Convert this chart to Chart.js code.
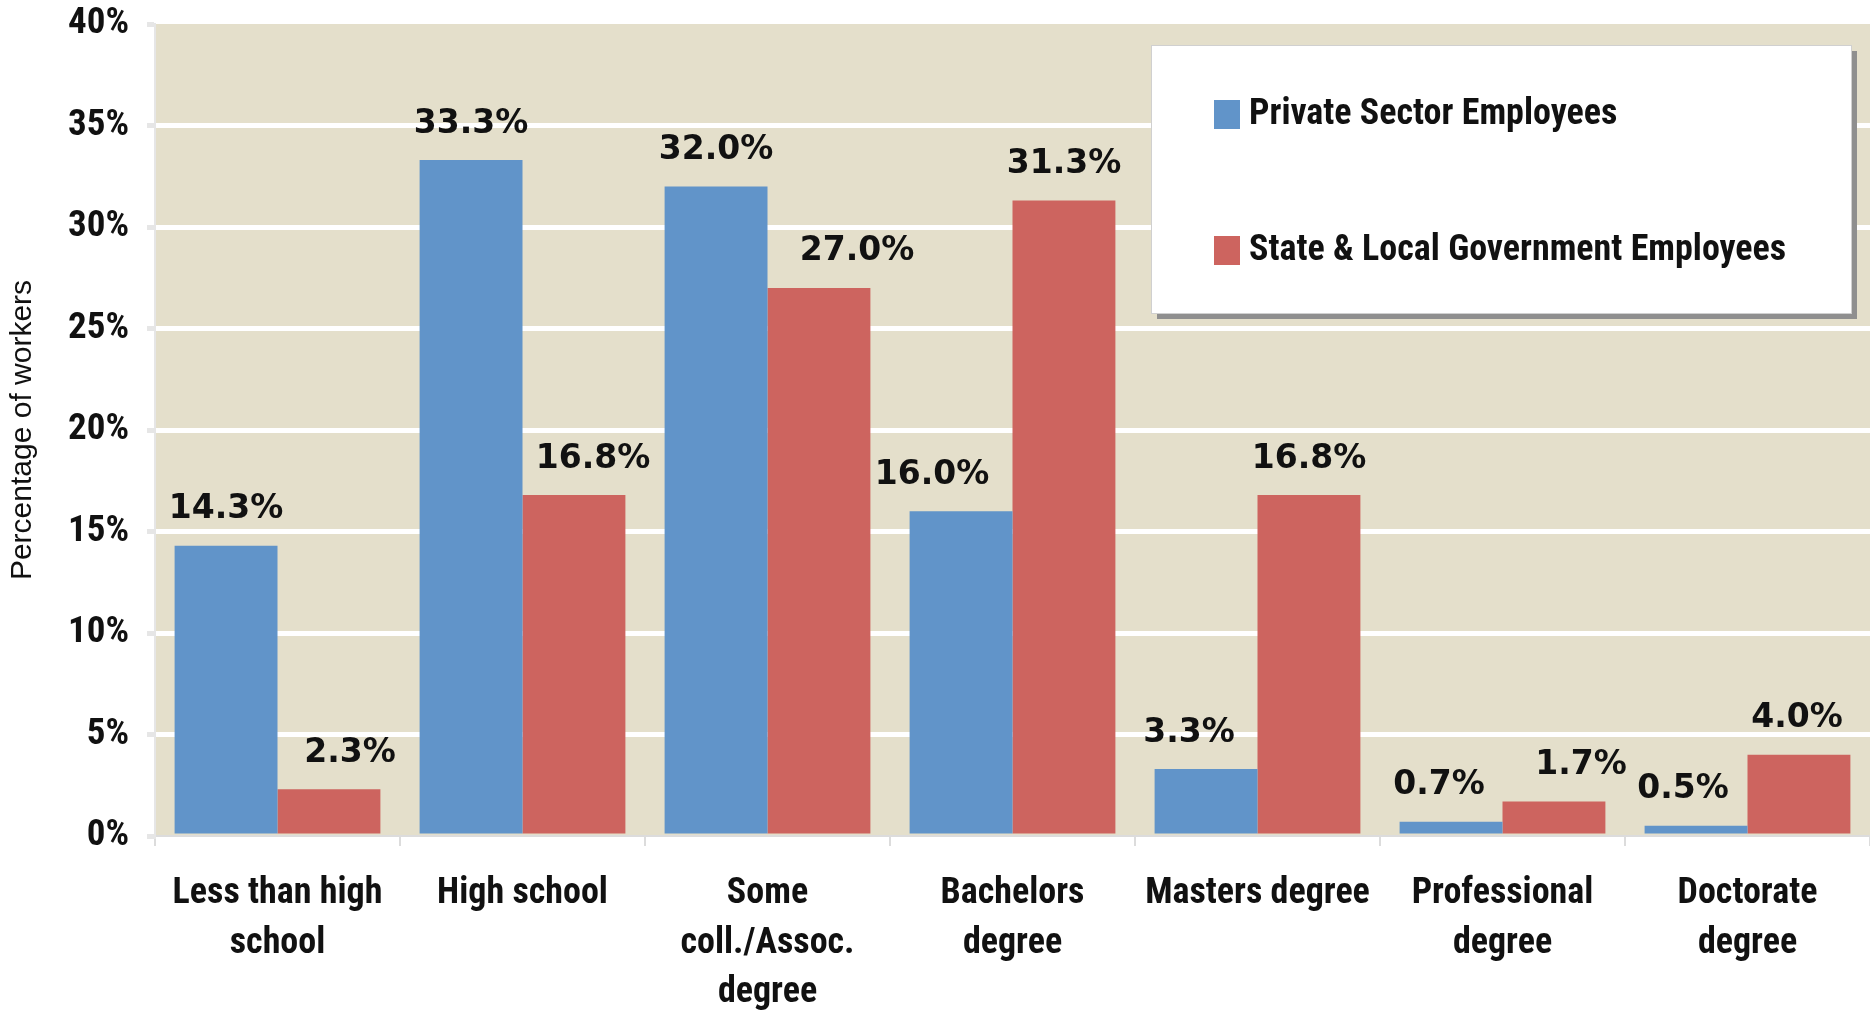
<!DOCTYPE html>
<html>
<head>
<meta charset="utf-8">
<script src="https://cdn.jsdelivr.net/npm/chart.js@4.4.1/dist/chart.umd.min.js"></script>
<style>
  html, body { margin: 0; padding: 0; background: #fff; }
  #wrap { width: 1870px; height: 1012px; }
</style>
</head>
<body>
<div id="wrap"><canvas id="chart" width="1870" height="1012"></canvas></div>
<script>
const categories = [
    ['Less than high', 'school'],
    ['High school'],
    ['Some', 'coll./Assoc.', 'degree'],
    ['Bachelors', 'degree'],
    ['Masters degree'],
    ['Professional', 'degree'],
    ['Doctorate', 'degree']
];
const privateSector = [14.3, 33.3, 32.0, 16.0, 3.3, 0.7, 0.5];
const stateLocal = [2.3, 16.8, 27.0, 31.3, 16.8, 1.7, 4.0];
const seriesNames = ['Private Sector Employees', 'State & Local Government Employees'];
const yTicks = [0, 5, 10, 15, 20, 25, 30, 35, 40];

// small horizontal nudges of the value labels, like the original
const labelShift = [
    [0, 0, 0, -29, -17, -12, -13],
    [21, 19, 38, 0, 0, 27, -2]
];

const narrow = "'Liberation Sans Narrow', 'Arial Narrow', 'Roboto Condensed', 'Liberation Sans', sans-serif";
const plotBg = '#E4DFCB';

const plotBackground = {
    id: 'plotBackground',
    beforeDraw(chart) {
        const { ctx, chartArea } = chart;
        ctx.save();
        ctx.fillStyle = plotBg;
        ctx.fillRect(chartArea.left, chartArea.top, chartArea.right - chartArea.left, chartArea.bottom - chartArea.top);
        ctx.restore();
    }
};

const valueLabels = {
    id: 'valueLabels',
    afterDatasetsDraw(chart) {
        const ctx = chart.ctx;
        ctx.save();
        ctx.font = "bold 33px 'DejaVu Sans', Verdana, sans-serif";
        ctx.fillStyle = '#111';
        ctx.textAlign = 'center';
        ctx.textBaseline = 'middle';
        chart.data.datasets.forEach((ds, di) => {
            chart.getDatasetMeta(di).data.forEach((bar, i) => {
                ctx.fillText(ds.data[i].toFixed(1) + '%', bar.x + labelShift[di][i], bar.y - 36);
            });
        });
        ctx.restore();
    }
};

const boxLegend = {
    id: 'boxLegend',
    afterDraw(chart) {
        const ctx = chart.ctx;
        const x = 1151, y = 45, w = 700, h = 268;
        ctx.save();
        ctx.fillStyle = '#8f8f8f';
        ctx.fillRect(x + 6, y + 6, w, h);
        ctx.fillStyle = '#ffffff';
        ctx.fillRect(x, y, w, h);
        ctx.strokeStyle = '#d0d0d0';
        ctx.lineWidth = 1;
        ctx.strokeRect(x + 0.5, y + 0.5, w, h);
        ctx.font = 'bold 36px ' + narrow;
        ctx.textBaseline = 'middle';
        ctx.textAlign = 'left';
        const rows = [114, 250];
        chart.data.datasets.forEach((ds, di) => {
            ctx.fillStyle = ds.backgroundColor;
            ctx.fillRect(1214, rows[di] - 14, 26, 29);
            ctx.fillStyle = '#111';
            ctx.fillText(ds.label, 1249, rows[di] + 1);
        });
        ctx.restore();
    }
};

new Chart(document.getElementById('chart'), {
    type: 'bar',
    data: {
        labels: categories,
        datasets: [
            { label: seriesNames[0], data: privateSector, backgroundColor: '#6194C9' },
            { label: seriesNames[1], data: stateLocal, backgroundColor: '#CD645F' }
        ]
    },
    options: {
        responsive: false,
        animation: false,
        layout: { padding: { top: 24, right: 0, bottom: 0, left: 0 } },
        datasets: { bar: { categoryPercentage: 0.84, barPercentage: 1.0 } },
        plugins: {
            legend: { display: false },
            tooltip: { enabled: false }
        },
        scales: {
            x: {
                afterFit(scale) {
                    scale.height = 176;
                    scale.paddingLeft = 0;
                    scale.paddingRight = 0;
                },
                grid: {
                    offset: true,
                    drawOnChartArea: false,
                    tickLength: 10,
                    tickColor: '#dcdcdc',
                    lineWidth: 2
                },
                border: { color: '#dcdcdc', width: 2 },
                ticks: {
                    padding: 23,
                    maxRotation: 0,
                    autoSkip: false,
                    color: '#111',
                    font: { family: narrow, size: 36, weight: 'bold', lineHeight: 1.38 }
                }
            },
            y: {
                min: 0,
                max: 40,
                afterFit(scale) {
                    scale.width = 155;
                    scale.paddingTop = 0;
                    scale.paddingBottom = 0;
                },
                afterBuildTicks(scale) { scale.ticks = yTicks.map(v => ({ value: v })); },
                grid: {
                    color: ctx => (ctx.tick && (ctx.tick.value === 0 || ctx.tick.value === 40)) ? 'rgba(0,0,0,0)' : '#ffffff',
                    lineWidth: 5,
                    tickColor: '#e6e6e6',
                    tickLength: 8
                },
                border: { color: '#e6e6e6', width: 2 },
                ticks: {
                    padding: 18,
                    color: '#111',
                    font: { family: narrow, size: 37, weight: 'bold' },
                    callback: v => v + '%'
                },
                title: {
                    display: true,
                    text: 'Percentage of workers',
                    color: '#111',
                    padding: { top: 5, bottom: 0 },
                    font: { family: "'Liberation Sans', Arial, sans-serif", size: 30 }
                }
            }
        }
    },
    plugins: [plotBackground, valueLabels, boxLegend]
});
</script>
</body>
</html>
